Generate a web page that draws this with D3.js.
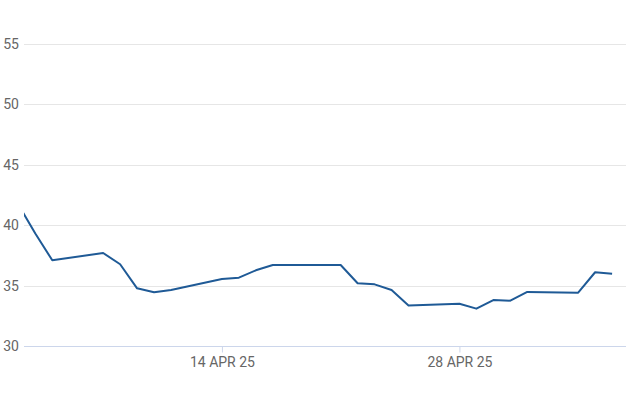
<!DOCTYPE html>
<html><head><meta charset="utf-8">
<script src="https://cdn.jsdelivr.net/npm/d3@7"></script>
<style>body{margin:0;background:#fff}svg{display:block}</style>
</head><body>
<script>
const dates = ["2025-04-02","2025-04-03","2025-04-04","2025-04-07","2025-04-08","2025-04-09","2025-04-10","2025-04-11",
"2025-04-14","2025-04-15","2025-04-16","2025-04-17","2025-04-21","2025-04-22","2025-04-23","2025-04-24","2025-04-25",
"2025-04-28","2025-04-29","2025-04-30","2025-05-01","2025-05-02","2025-05-05","2025-05-06","2025-05-07"];
const values = [41.7,39.3,37.09,37.69,36.76,34.77,34.44,34.63,
35.54,35.65,36.26,36.70,36.70,35.19,35.10,34.63,33.35,
33.50,33.09,33.80,33.75,34.47,34.41,36.10,35.98];
const yTicks = [30,35,40,45,50,55];
const xTicks = ["2025-04-14","2025-04-28"];
const xTickLabels = ["14 APR 25","28 APR 25"];

(function(){
const W=626,H=417;
const parse = d3.utcParse("%Y-%m-%d");
const data = dates.map((d,i)=>({d:parse(d),v:values[i]}));
const mLeft=24,mRight=626,mTop=43.7,mBottom=346;
const x = d3.scaleUtc().domain([new Date(Date.UTC(2025,3,2,8)), new Date(Date.UTC(2025,4,7,19,40))]).range([mLeft,mRight]);
const y = d3.scaleLinear().domain([30,55]).range([mBottom,mTop]);

const svg = d3.select("body").append("svg").attr("width",W).attr("height",H);
svg.append("defs").append("clipPath").attr("id","c").append("rect")
  .attr("x",mLeft).attr("y",0).attr("width",mRight-mLeft).attr("height",H);

const font = "Roboto, 'Liberation Sans', sans-serif";
const yAxis = svg.append("g").attr("transform",`translate(${mLeft},0)`)
  .call(d3.axisLeft(y).tickValues(yTicks).tickSize(0).tickPadding(6));
yAxis.select(".domain").remove();
yAxis.selectAll("text").attr("font-family",font).attr("font-size",14).attr("fill","#666").attr("x",-5);
svg.append("g").selectAll("line").data(yTicks.filter(t=>t!==30)).join("line")
  .attr("x1",mLeft).attr("x2",mRight).attr("y1",d=>Math.round(y(d))+0.5).attr("y2",d=>Math.round(y(d))+0.5)
  .attr("stroke","#e6e6e6").attr("stroke-width",1);

const xAxis = svg.append("g").attr("transform",`translate(0,${Math.round(mBottom)+0.5})`)
  .call(d3.axisBottom(x).tickValues(xTicks.map(parse)).tickSize(6).tickPadding(5)
    .tickFormat((d,i)=>xTickLabels[i]));
xAxis.select(".domain").attr("d",`M${mLeft},0H${mRight}`).attr("stroke","#ccd6eb");
xAxis.selectAll(".tick line").attr("stroke","#ccd6eb");
xAxis.selectAll("text").attr("font-family",font).attr("font-size",14).attr("fill","#666");

const line = d3.line().x(d=>x(d.d)).y(d=>y(d.v));
svg.append("path").datum(data).attr("clip-path","url(#c)").attr("d",line)
  .attr("fill","none").attr("stroke","#1f5a96").attr("stroke-width",2).attr("stroke-linejoin","round");
})();
</script>
</body></html>
